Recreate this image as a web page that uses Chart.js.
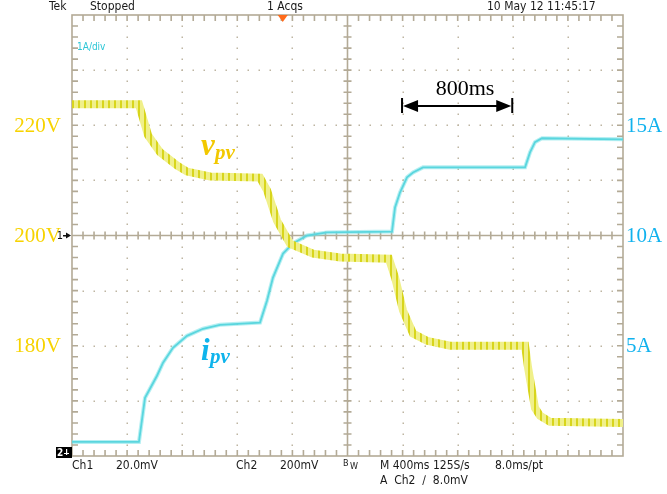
<!doctype html>
<html lang="en">
<head>
<meta charset="utf-8">
<title>PV voltage and current - scope capture</title>
<style>
  * { margin: 0; padding: 0; }
  body { background: #fff; width: 667px; height: 494px; overflow: hidden; }
  #scope { display: block; }
</style>
</head>
<body>
<canvas id="scope" width="667" height="494"></canvas>
<script src="https://cdn.jsdelivr.net/npm/chart.js"></script>
<script>
// time axis in ms, 400 ms/div, 10 div across the screen
const voltTime = [0, 486, 552, 639, 762, 835, 1002, 1365, 1416, 1488, 1583, 1750, 1946, 2301, 2345, 2403, 2476, 2577, 2744, 3289, 3311, 3340, 3361, 3398, 3470, 4000]
const voltVals = [223.8, 223.8, 218.2, 215.1, 212.7, 211.6, 210.7, 210.5, 208.2, 202.7, 198.5, 196.7, 196.0, 195.8, 192.4, 186.4, 182.2, 180.9, 180.0, 180.0, 176.0, 171.8, 168.7, 167.3, 166.2, 166.0]
const currTime = [0, 486, 530, 566, 617, 661, 733, 835, 951, 1074, 1365, 1416, 1459, 1532, 1604, 1706, 1851, 2323, 2345, 2381, 2432, 2476, 2548, 3289, 3325, 3361, 3412, 4000]
const currVals = [0.64, 0.64, 2.64, 3.05, 3.64, 4.23, 4.91, 5.45, 5.77, 5.95, 6.05, 7.05, 8.09, 9.18, 9.64, 10.0, 10.14, 10.18, 11.27, 11.95, 12.64, 12.86, 13.09, 13.09, 13.77, 14.23, 14.41, 14.36]

const voltTicks = [220, 200, 180]
const voltTickLabels = ['220V', '200V', '180V']
const currTicks = [15, 10, 5]
const currTickLabels = ['15A', '10A', '5A']

const voltPts = voltTime.map((t, i) => ({ x: t, y: voltVals[i] }))
const currPts = currTime.map((t, i) => ({ x: t, y: currVals[i] }))

// striped stroke gives the ripple look of the yellow trace
const stripe = document.createElement('canvas')
stripe.width = 6
stripe.height = 4
const sctx = stripe.getContext('2d')
sctx.fillStyle = '#f0f08a'
sctx.fillRect(0, 0, 6, 4)
sctx.fillStyle = '#d8d51c'
sctx.fillRect(0, 0, 2, 4)
const ripple = sctx.createPattern(stripe, 'repeat')

const GRID = '#b3aa96'
const SCOPE_FONT = "'Liberation Sans Narrow', 'DejaVu Sans Condensed', 'Liberation Sans', sans-serif"

const graticule = {
    id: 'graticule',
    beforeDatasetsDraw(chart) {
        const { ctx, chartArea: { left, right, top, bottom } } = chart
        const x = chart.scales.x
        const y = chart.scales.y
        const cx = x.getPixelForValue(2000)
        const cy = y.getPixelForValue(200)
        ctx.save()
        // dotted major lines
        ctx.fillStyle = '#beb5a2'
        for (let t = 400; t < 4000; t += 400) {
            if (t === 2000) continue
            const px = Math.round(x.getPixelForValue(t))
            for (let v = 162; v < 240; v += 2) {
                ctx.fillRect(px - 0.5, Math.round(y.getPixelForValue(v)) - 0.5, 1.5, 1.5)
            }
        }
        for (let v = 170; v < 240; v += 10) {
            if (v === 200) continue
            const py = Math.round(y.getPixelForValue(v))
            for (let t = 80; t < 4000; t += 80) {
                ctx.fillRect(Math.round(x.getPixelForValue(t)) - 0.5, py - 0.5, 1.5, 1.5)
            }
        }
        ctx.strokeStyle = GRID
        ctx.lineWidth = 1.6
        ctx.strokeRect(left, top, right - left, bottom - top)
        ctx.beginPath()
        ctx.moveTo(left, cy); ctx.lineTo(right, cy)
        ctx.moveTo(cx, top); ctx.lineTo(cx, bottom)
        // minor ticks
        for (let t = 80; t < 4000; t += 80) {
            const px = x.getPixelForValue(t)
            ctx.moveTo(px, top); ctx.lineTo(px, top + 6)
            ctx.moveTo(px, bottom); ctx.lineTo(px, bottom - 6)
            ctx.moveTo(px, cy - 4); ctx.lineTo(px, cy + 4)
        }
        for (let v = 162; v < 240; v += 2) {
            const py = y.getPixelForValue(v)
            ctx.moveTo(left, py); ctx.lineTo(left + 6, py)
            ctx.moveTo(right, py); ctx.lineTo(right - 6, py)
            ctx.moveTo(cx - 4, py); ctx.lineTo(cx + 4, py)
        }
        ctx.stroke()
        ctx.restore()
    },
    afterDraw(chart) {
        const { ctx, chartArea: { left, right, top, bottom } } = chart
        const x = chart.scales.x
        const y = chart.scales.y
        const yi = chart.scales.yi
        ctx.save()

        // scope status text
        ctx.fillStyle = '#1a1a1a'
        ctx.font = '12px ' + SCOPE_FONT
        ctx.textBaseline = 'middle'
        ctx.textAlign = 'left'
        ctx.fillText('Tek', 49, 7)
        ctx.fillText('Stopped', 90, 7)
        ctx.fillText('1 Acqs', 267, 7)
        ctx.fillText('10 May 12 11:45:17', 487, 7)
        ctx.fillText('Ch1', 72, 466)
        ctx.fillText('20.0mV', 116, 466)
        ctx.fillText('Ch2', 236, 466)
        ctx.fillText('200mV', 280, 466)
        ctx.fillText('M 400ms 125S/s', 380, 466)
        ctx.fillText('8.0ms/pt', 495, 466)
        ctx.fillText('A  Ch2  \u2215  8.0mV', 380, 481)
        ctx.font = '9px ' + SCOPE_FONT
        ctx.fillText('B', 343, 464)
        ctx.fillText('W', 350, 467)

        ctx.fillStyle = '#2cc6d6'
        ctx.font = '10px ' + SCOPE_FONT
        ctx.fillText('1A/div', 77, 47)

        // trigger marker
        const tx = x.getPixelForValue(1530)
        ctx.fillStyle = '#ff6a1a'
        ctx.beginPath()
        ctx.moveTo(tx - 5, top)
        ctx.lineTo(tx + 5, top)
        ctx.lineTo(tx, top + 7)
        ctx.closePath()
        ctx.fill()

        // ch1 offset marker
        const cy = y.getPixelForValue(200)
        ctx.fillStyle = '#111'
        ctx.font = '11px ' + SCOPE_FONT
        ctx.textAlign = 'right'
        ctx.fillText('1', 63, cy + 1)
        ctx.beginPath()
        ctx.moveTo(left - 1, cy)
        ctx.lineTo(left - 6, cy - 3)
        ctx.lineTo(left - 6, cy + 3)
        ctx.closePath()
        ctx.fill()
        ctx.fillRect(left - 9, cy - 0.5, 4, 1.5)

        // ch2 ground marker
        ctx.fillStyle = '#000'
        ctx.fillRect(56, 447, 16, 11)
        ctx.fillStyle = '#fff'
        ctx.font = 'bold 10px ' + SCOPE_FONT
        ctx.textAlign = 'left'
        ctx.fillText('2', 57, 453)
        ctx.fillRect(66, 449, 1.2, 6)
        ctx.fillRect(64, 453, 5, 1)

        // axis labels
        ctx.font = '21px "Liberation Serif", "Times New Roman", serif'
        ctx.fillStyle = '#f7d300'
        ctx.textAlign = 'right'
        voltTicks.forEach((v, i) => ctx.fillText(voltTickLabels[i], 61, y.getPixelForValue(v) + 1))
        ctx.fillStyle = '#11b2ee'
        ctx.textAlign = 'left'
        currTicks.forEach((v, i) => ctx.fillText(currTickLabels[i], 626, yi.getPixelForValue(v) + 1))

        // trace names
        ctx.textBaseline = 'alphabetic'
        ctx.fillStyle = '#f2c800'
        ctx.font = 'italic bold 31px "Liberation Serif", "Times New Roman", serif'
        ctx.fillText('v', 201, 155)
        ctx.font = 'italic bold 21px "Liberation Serif", "Times New Roman", serif'
        ctx.fillText('pv', 215, 159)
        ctx.fillStyle = '#0fb4ec'
        ctx.font = 'italic bold 31px "Liberation Serif", "Times New Roman", serif'
        ctx.fillText('i', 201, 360)
        ctx.font = 'italic bold 21px "Liberation Serif", "Times New Roman", serif'
        ctx.fillText('pv', 210, 363)

        // 800 ms span marker
        const ax1 = x.getPixelForValue(2396)
        const ax2 = x.getPixelForValue(3196)
        const ay = 106
        ctx.fillStyle = '#000'
        ctx.strokeStyle = '#000'
        ctx.lineWidth = 2
        ctx.beginPath()
        ctx.moveTo(ax1, ay - 8); ctx.lineTo(ax1, ay + 7)
        ctx.moveTo(ax2, ay - 8); ctx.lineTo(ax2, ay + 7)
        ctx.moveTo(ax1 + 10, ay); ctx.lineTo(ax2 - 10, ay)
        ctx.stroke()
        ctx.beginPath()
        ctx.moveTo(ax1 + 1, ay); ctx.lineTo(ax1 + 16, ay - 6); ctx.lineTo(ax1 + 16, ay + 6); ctx.closePath()
        ctx.moveTo(ax2 - 1, ay); ctx.lineTo(ax2 - 16, ay - 6); ctx.lineTo(ax2 - 16, ay + 6); ctx.closePath()
        ctx.fill()
        ctx.font = '22px "Liberation Serif", "Times New Roman", serif'
        ctx.textAlign = 'center'
        ctx.fillText('800ms', 465, 95)

        ctx.restore()
    }
}

const config = {
    type: 'line',
    data: {
        datasets: [
            {
                label: 'vpv ripple',
                data: voltPts,
                yAxisID: 'y',
                borderColor: ripple,
                borderWidth: 8,
                pointRadius: 0,
                tension: 0
            },
            {
                label: 'vpv',
                data: voltPts,
                yAxisID: 'y',
                borderColor: '#d8d512',
                borderWidth: 2.5,
                pointRadius: 0,
                tension: 0
            },
            {
                label: 'ipv glow',
                data: currPts,
                yAxisID: 'yi',
                borderColor: 'rgba(120, 225, 232, 0.55)',
                borderWidth: 4,
                pointRadius: 0,
                tension: 0
            },
            {
                label: 'ipv',
                data: currPts,
                yAxisID: 'yi',
                borderColor: '#36c8d3',
                borderWidth: 1.8,
                pointRadius: 0,
                tension: 0
            }
        ]
    },
    options: {
        responsive: false,
        animation: false,
        events: [],
        layout: { padding: { left: 72, top: 15, right: 44, bottom: 38 } },
        plugins: { legend: { display: false }, tooltip: { enabled: false } },
        scales: {
            x: { type: 'linear', min: 0, max: 4000, display: false },
            y: { type: 'linear', min: 160, max: 240, display: false },
            yi: { type: 'linear', min: 0, max: 20, display: false }
        }
    },
    plugins: [graticule]
}

const scopeChart = new Chart(document.getElementById('scope'), config)
</script>
</body>
</html>
